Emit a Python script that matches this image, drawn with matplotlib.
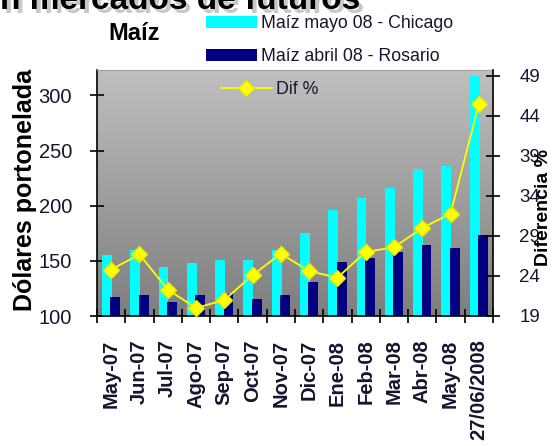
import numpy as np
import matplotlib
matplotlib.use("Agg")
import matplotlib.pyplot as plt
from matplotlib.patches import Patch
from matplotlib.lines import Line2D
from matplotlib.colors import LinearSegmentedColormap

plt.rcParams['font.family'] = ['Liberation Sans', 'DejaVu Sans']

categories = ["May-07", "Jun-07", "Jul-07", "Ago-07", "Sep-07", "Oct-07", "Nov-07",
              "Dic-07", "Ene-08", "Feb-08", "Mar-08", "Abr-08", "May-08", "27/06/2008"]
chicago = [155, 160, 144, 148, 151, 151, 160, 175, 196, 207, 216, 233, 236, 318]
rosario = [117, 119, 113, 119, 120, 115, 119, 131, 149, 153, 158, 164, 162, 173]
dif_pct = [24.8, 26.7, 22.3, 20.0, 21.0, 24.1, 26.8, 24.6, 23.8, 27.0, 27.6, 30.0, 31.8, 45.5]
left_ticks = [100, 150, 200, 250, 300]
right_ticks = [19, 24, 29, 34, 39, 44, 49]

txt = "#151530"
W, H = 555, 446
fig = plt.figure(figsize=(5.55, 4.46), dpi=100)
ax = fig.add_axes([97 / W, 1 - 316 / H, (493 - 97) / W, (316 - 70) / H])

# gradient background
grad = np.linspace(0, 1, 256).reshape(-1, 1)
cmap = LinearSegmentedColormap.from_list("g", ["#7e7e7e", "#c0c0c0"])
ax.imshow(grad, extent=[0, 1, 0, 1], transform=ax.transAxes, cmap=cmap,
          origin="lower", aspect="auto", zorder=0)

x = np.arange(len(categories))
ax.bar(x - 0.15, chicago, width=0.35, color="#00FFFF", zorder=2)
ax.bar(x + 0.15, rosario, width=0.35, color="#000080", zorder=3)

ax.set_xlim(-0.5, len(categories) - 0.5)
ax.set_ylim(100, 323)
ax.set_yticks(left_ticks)
ax.tick_params(axis="y", direction="inout", length=10, width=1.2, labelsize=14.5,
               labelcolor=txt, pad=13)
ax.set_xticks(x)
ax.set_xticklabels(categories, rotation=90, fontweight="bold", fontsize=14.5, color=txt)
ax.tick_params(axis="x", which="major", length=0, pad=17)
ax.set_xticks(np.arange(-0.5, len(categories)), minor=True)
ax.tick_params(axis="x", which="minor", direction="inout", length=10, width=1.2)
for s in ["left", "bottom"]:
    ax.spines[s].set_color("black")
    ax.spines[s].set_linewidth(1.2)
ax.spines["top"].set_color("#a0a0a0")
ax.spines["right"].set_visible(False)

ax2 = ax.twinx()
ax2.plot(x, dif_pct, color="#FFFF00", lw=1.3, marker="D", markersize=8.5,
         markerfacecolor="#FFFF00", markeredgecolor="#e8e800", zorder=5)
ax2.set_ylim(19, 49.75)
ax2.set_yticks(right_ticks)
ax2.tick_params(axis="y", direction="inout", length=10, width=1.2, labelsize=13.5,
                labelcolor=txt, pad=14)
ax2.spines["right"].set_color("black")
ax2.spines["right"].set_linewidth(1.2)
for s in ["top", "left", "bottom"]:
    ax2.spines[s].set_visible(False)

# labels
fig.text(25 / W, 1 - 190 / H, "Dólares portonelada", rotation=90, ha="center", va="center",
         fontsize=18, fontweight="bold", color="black")
fig.text(544 / W, 1 - 208 / H, "Diferencia %", rotation=90, ha="center", va="center",
         fontsize=14, fontweight="bold", color="black")
fig.text(134 / W, 1 - 33 / H, "Maíz", ha="center", va="center", fontsize=17,
         fontweight="bold", color="black")
# cut-off page title with shadow
fig.text(4 / W, 1 - 13 / H, "n mercados de futuros", ha="left", va="baseline",
         fontsize=24, fontweight="bold", color="#c8c8c8")
fig.text(0, 1 - 9 / H, "n mercados de futuros", ha="left", va="baseline",
         fontsize=24, fontweight="bold", color="black")

# legends
h1 = [Patch(facecolor="#00FFFF", edgecolor="none"), Patch(facecolor="#000080", edgecolor="none")]
fig.legend(h1, ["Maíz mayo 08 - Chicago", "Maíz abril 08 - Rosario"],
           loc="upper left", bbox_to_anchor=(206 / W, 1 - 15 / H), frameon=False,
           fontsize=12.8, handlelength=2.85, handleheight=0.7, handletextpad=0.25,
           labelspacing=0.9, borderpad=0, borderaxespad=0, labelcolor=txt)
h2 = [Line2D([0], [0], color="#FFFF00", lw=1.3, marker="D", markersize=8.5,
             markerfacecolor="#FFFF00", markeredgecolor="#e8e800")]
fig.legend(h2, ["Dif %"], loc="upper left", bbox_to_anchor=(221 / W, 1 - 81 / H),
           frameon=False, fontsize=12.8, handlelength=2.85, handletextpad=0.25,
           borderpad=0, borderaxespad=0, numpoints=1, labelcolor=txt)

fig.savefig("out.png", dpi=100, facecolor="white")
